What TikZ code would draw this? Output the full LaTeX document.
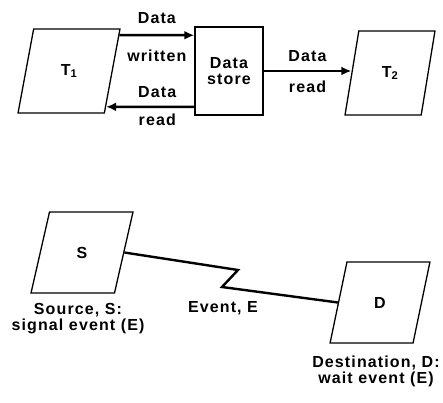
\documentclass[tikz,border=0pt]{standalone}
\usepackage{fontspec}
\setmainfont[LetterSpace=7]{Liberation Sans}
\usetikzlibrary{shapes.geometric, arrows.meta, positioning, calc}

\tikzset{
  task/.style={trapezium, draw=black, line width=1.3pt, fill=white,
               trapezium left angle=75, trapezium right angle=105,
               trapezium stretches=true, inner sep=0pt,
               minimum width=102pt, minimum height=84pt},
  store/.style={rectangle, draw=black, line width=1.5pt, align=center,
                minimum width=68pt, minimum height=88pt, inner sep=0pt},
  flow/.style={-{Latex[length=10pt,width=9pt]}, line width=2.5pt},
  event/.style={line width=2.4pt, line join=miter},
  lbl/.style={font=\fontsize{16}{16}\selectfont\bfseries, inner sep=1pt},
}

\begin{document}
\begin{tikzpicture}[x=1pt, y=-1pt, lbl]
\useasboundingbox (0,0) rectangle (443,402);

% --- shared data store between two tasks ---
\node[task] (T1) at (69,71) {T\textsubscript{1}};
\node[store] (ds) at (229,71) {Data\\store};
\node[task, minimum width=90pt] (T2) at (390,73) {T\textsubscript{2}};

\draw[flow] ($(T1.top right corner)!0.08!(T1.bottom right corner)$)
  -- node[above=9pt]{Data} node[below=12pt]{written}
  ([yshift=-9pt]ds.north west);
\draw[flow] ([yshift=9pt]ds.south west)
  -- node[pos=0.42, above=7pt]{Data} node[pos=0.42, below=5pt]{read}
  ($(T1.top right corner)!0.92!(T1.bottom right corner)$);
\draw[flow] (ds.east) -- node[above=7pt]{Data} node[below=8pt]{read}
  (ds.east -| T2.west);

% --- event signalled from S, waited on by D ---
\node[task, minimum height=81pt] (S) at (82,252.5) {S};
\node[task, minimum width=100pt, minimum height=81pt] (D) at (380,302.5) {D};

\coordinate (z1) at (238,270);
\coordinate (z2) at (222,287);
\draw[event] (S.east) -- (z1) -- (z2) -- (D.west);

\node[align=center] (evt) at (223,308) {Event, E};
\node[align=center] (src) at (78,319) {Source, S:\\signal event (E)};
\node[align=center] (dst) at (376,371) {Destination, D:\\wait event (E)};

\end{tikzpicture}
\end{document}
